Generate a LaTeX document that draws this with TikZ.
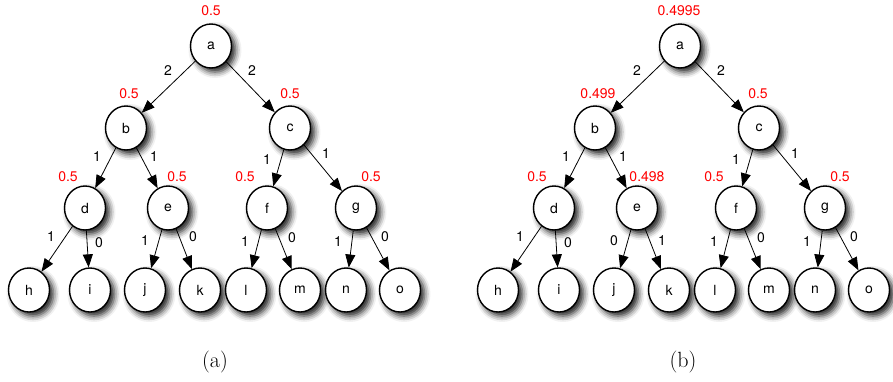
\documentclass[tikz,border=0pt]{standalone}
\usepackage{fontspec}
\setmainfont{Latin Modern Roman}
\newfontfamily\helv{TeX Gyre Heros}
\usetikzlibrary{shapes.geometric,shadows.blur,arrows.meta}
\begin{document}
\begin{tikzpicture}[x=1pt,y=-1pt,
  treenode/.style={ellipse, draw=black, line width=1.4pt, fill=white,
    minimum width=41pt, minimum height=44pt, inner sep=0pt,
    font=\helv\fontsize{14}{16}\selectfont,
    blur shadow={shadow xshift=4pt, shadow yshift=-4pt, shadow blur radius=6pt, shadow opacity=90}},
  prob/.style={text=red, font=\helv\fontsize{14}{16}\selectfont, inner sep=0pt},
  wlab/.style={text=black, font=\helv\fontsize{14}{16}\selectfont, inner sep=0pt},
  conn/.style={line width=0.8pt, -{Triangle[length=13pt,width=10pt]}},
  captext/.style={font=\fontsize{22}{26}\selectfont, inner sep=0pt}
]
\useasboundingbox (0,0) rectangle (893,381);
% ---------- panel (a) ----------
\begin{scope}
\node[treenode] (a) at (211,46) {a};
\node[treenode] (b) at (126,128) {b};
\node[treenode] (c) at (290,128) {c};
\node[treenode] (d) at (85,208) {d};
\node[treenode] (e) at (168,208) {e};
\node[treenode] (f) at (267,208) {f};
\node[treenode] (g) at (356,208) {g};
\node[treenode] (h) at (29,290) {h};
\node[treenode] (i) at (90,290) {i};
\node[treenode] (j) at (145,290) {j};
\node[treenode] (k) at (200,290) {k};
\node[treenode] (l) at (246,290) {l};
\node[treenode] (m) at (300,290) {m};
\node[treenode] (n) at (346,290) {n};
\node[treenode] (o) at (400,290) {o};
\draw[conn] (a) -- (b); \draw[conn] (a) -- (c);
\draw[conn] (b) -- (d); \draw[conn] (b) -- (e);
\draw[conn] (c) -- (f); \draw[conn] (c) -- (g);
\draw[conn] (d) -- (h); \draw[conn] (d) -- (i);
\draw[conn] (e) -- (j); \draw[conn] (e) -- (k);
\draw[conn] (f) -- (l); \draw[conn] (f) -- (m);
\draw[conn] (g) -- (n); \draw[conn] (g) -- (o);
\node[prob] (pa) at (211,11) {0.5};
\node[prob] (pb) at (129,94) {0.5};
\node[prob] (pc) at (290,94) {0.5};
\node[prob] (pd) at (68,177) {0.5};
\node[prob] (pe) at (177,177) {0.5};
\node[prob] (pf) at (245,177) {0.5};
\node[prob] (pg) at (371,177) {0.5};
\node[wlab] (wab) at (168,71) {2};
\node[wlab] (wac) at (252,71) {2};
\node[wlab] (wbd) at (97,157) {1};
\node[wlab] (wbe) at (154,157) {1};
\node[wlab] (wcf) at (267,160) {1};
\node[wlab] (wcg) at (326,154) {1};
\node[wlab] (wdh) at (51,237) {1};
\node[wlab] (wdi) at (99,243) {0};
\node[wlab] (wej) at (145,241) {1};
\node[wlab] (wek) at (193,237) {0};
\node[wlab] (wfl) at (245,242) {1};
\node[wlab] (wfm) at (292,238) {0};
\node[wlab] (wgn) at (338,242) {1};
\node[wlab] (wgo) at (385,237) {0};
\node[captext] (capa) at (215,362) {(a)};
\end{scope}
% ---------- panel (b) ----------
\begin{scope}[xshift=469pt]
\node[treenode] (a2) at (211,46) {a};
\node[treenode] (b2) at (126,128) {b};
\node[treenode] (c2) at (290,128) {c};
\node[treenode] (d2) at (85,208) {d};
\node[treenode] (e2) at (168,208) {e};
\node[treenode] (f2) at (267,208) {f};
\node[treenode] (g2) at (356,208) {g};
\node[treenode] (h2) at (29,290) {h};
\node[treenode] (i2) at (90,290) {i};
\node[treenode] (j2) at (145,290) {j};
\node[treenode] (k2) at (200,290) {k};
\node[treenode] (l2) at (246,290) {l};
\node[treenode] (m2) at (300,290) {m};
\node[treenode] (n2) at (346,290) {n};
\node[treenode] (o2) at (400,290) {o};
\draw[conn] (a2) -- (b2); \draw[conn] (a2) -- (c2);
\draw[conn] (b2) -- (d2); \draw[conn] (b2) -- (e2);
\draw[conn] (c2) -- (f2); \draw[conn] (c2) -- (g2);
\draw[conn] (d2) -- (h2); \draw[conn] (d2) -- (i2);
\draw[conn] (e2) -- (j2); \draw[conn] (e2) -- (k2);
\draw[conn] (f2) -- (l2); \draw[conn] (f2) -- (m2);
\draw[conn] (g2) -- (n2); \draw[conn] (g2) -- (o2);
\node[prob] (pa2) at (210,11) {0.4995};
\node[prob] (pb2) at (129,94) {0.499};
\node[prob] (pc2) at (289,94) {0.5};
\node[prob] (pd2) at (68,177) {0.5};
\node[prob] (pe2) at (178,177) {0.498};
\node[prob] (pf2) at (245,177) {0.5};
\node[prob] (pg2) at (371,177) {0.5};
\node[wlab] (wab2) at (168,71) {2};
\node[wlab] (wac2) at (252,71) {2};
\node[wlab] (wbd2) at (97,157) {1};
\node[wlab] (wbe2) at (154,157) {1};
\node[wlab] (wcf2) at (267,160) {1};
\node[wlab] (wcg2) at (326,154) {1};
\node[wlab] (wdh2) at (51,237) {1};
\node[wlab] (wdi2) at (99,243) {0};
\node[wlab] (wej2) at (145,241) {0};
\node[wlab] (wek2) at (193,241) {1};
\node[wlab] (wfl2) at (245,242) {1};
\node[wlab] (wfm2) at (292,238) {0};
\node[wlab] (wgn2) at (338,242) {1};
\node[wlab] (wgo2) at (385,237) {0};
\node[captext] (capb) at (214,362) {(b)};
\end{scope}
\end{tikzpicture}
\end{document}
